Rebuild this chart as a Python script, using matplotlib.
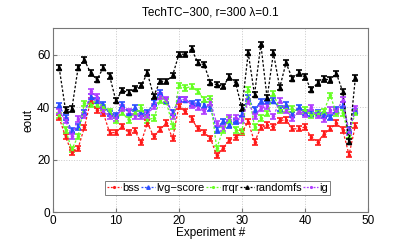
import numpy as np
import matplotlib
matplotlib.use('Agg')
import matplotlib.pyplot as plt
from matplotlib.lines import Line2D

plt.rcParams['font.family'] = ['Liberation Sans', 'DejaVu Sans']

experiments = list(range(1, 49))

bss = [36.0, 28.8, 22.8, 24.4, 32.4, 42.6, 38.8, 37.8, 30.4, 30.4, 32.7, 30.4, 31.1, 26.6, 34.0, 28.9,
       31.5, 34.0, 28.2, 40.3, 38.4, 35.5, 32.0, 30.5, 28.2, 21.7, 24.4, 27.5, 28.6, 30.5, 34.5, 26.8,
       32.2, 33.3, 32.5, 35.0, 35.2, 31.8, 31.8, 32.5, 28.6, 26.7, 29.8, 31.8, 34.0, 31.4, 21.9, 33.0]
lvg_score = [40.7, 36.0, 31.2, 32.5, 38.0, 44.0, 42.5, 40.9, 37.5, 37.0, 40.9, 38.0, 39.7, 37.5, 38.0, 41.6,
             45.5, 42.5, 38.0, 43.0, 42.9, 41.5, 41.6, 40.9, 39.7, 31.4, 34.6, 33.3, 34.6, 37.6, 43.5, 39.0,
             42.2, 42.2, 42.5, 39.5, 40.9, 37.2, 40.0, 38.0, 37.6, 38.0, 37.0, 36.2, 39.0, 40.9, 31.4, 38.5]
rrqr = [37.0, 31.4, 24.0, 29.0, 41.5, 41.0, 41.0, 40.0, 38.4, 35.2, 38.0, 35.2, 38.0, 39.7, 35.2, 35.9,
        42.5, 42.2, 32.7, 48.4, 47.3, 47.9, 46.0, 42.9, 43.1, 24.4, 31.4, 35.2, 31.4, 30.8, 46.7, 32.5,
        35.9, 37.5, 45.2, 39.0, 39.3, 39.3, 38.4, 39.0, 37.0, 37.5, 38.5, 44.6, 37.8, 37.8, 29.5, 38.0]
randomfs = [55.0, 39.0, 39.3, 55.0, 58.0, 53.0, 50.5, 55.1, 51.9, 42.5, 46.5, 45.5, 47.1, 48.3, 53.0, 44.2,
            49.9, 49.9, 52.1, 60.2, 60.2, 62.2, 57.0, 56.2, 49.3, 48.6, 48.0, 51.5, 49.2, 39.7, 60.7, 44.8,
            64.0, 43.5, 60.7, 47.5, 56.9, 50.9, 53.0, 51.5, 46.7, 49.2, 50.8, 50.4, 52.8, 46.0, 26.9, 51.1]
ig = [38.5, 35.0, 29.0, 35.5, 37.0, 46.1, 43.9, 38.4, 36.5, 35.9, 39.7, 38.4, 36.5, 36.5, 37.1, 40.3,
      44.3, 43.0, 36.5, 42.9, 43.0, 40.6, 39.8, 38.4, 42.0, 33.9, 32.0, 36.2, 35.9, 35.2, 42.2, 36.5,
      39.6, 40.3, 36.5, 42.5, 39.0, 35.9, 38.5, 37.2, 40.0, 36.8, 35.5, 39.0, 38.4, 42.9, 30.5, 39.6]

series = [('bss', bss, '#ff1a1a', '.'),
          ('lvg\u2212score', lvg_score, '#2a4dff', '^'),
          ('rrqr', rrqr, '#66ff22', '.'),
          ('randomfs', randomfs, 'black', '^'),
          ('ig', ig, '#b03cff', '.')]

fig = plt.figure(figsize=(4.07, 2.45), dpi=100)
ax = fig.add_axes([0.130, 0.133, 0.774, 0.751])

handles = []
for name, vals, col, mk in series:
    ax.errorbar(experiments, vals, yerr=1.0, color=col, ecolor=col, linestyle='--', dashes=(2, 1.5),
                linewidth=0.9, elinewidth=1.6, capsize=2.2, capthick=1.2,
                marker=mk, markersize=3)
    handles.append(Line2D([], [], color=col, linestyle='--', dashes=(1.5, 1.2), linewidth=0.9,
                          marker=mk, markersize=2.5, label=name))

ax.set_xlim(0, 50)
ax.set_ylim(0, 70)
ax.set_xticks([0, 10, 20, 30, 40, 50])
ax.set_yticks([0, 20, 40, 60])
ax.grid(True, linestyle=':', color='#c8c8c8', linewidth=0.7)
ax.tick_params(direction='in', labelsize=8.5, length=3, color='#777777', pad=2)
for s in ax.spines.values():
    s.set_color('#777777')

ax.set_title('TechTC\u2212300, r=300 \u03bb=0.1', fontsize=8.5, pad=9)
ax.set_xlabel('Experiment #', fontsize=8.5, labelpad=0)
ax.set_ylabel('eout', fontsize=8.5, labelpad=2)

leg = ax.legend(handles=handles, loc='lower center', bbox_to_anchor=(0.522, 0.094), ncol=5, fontsize=8,
                handlelength=1.3, handletextpad=0.1, columnspacing=0.1, borderpad=0.2,
                frameon=True, fancybox=False, edgecolor='#444444', borderaxespad=0)
leg.get_frame().set_linewidth(0.6)

plt.savefig('out.png', dpi=100)
plt.close()
